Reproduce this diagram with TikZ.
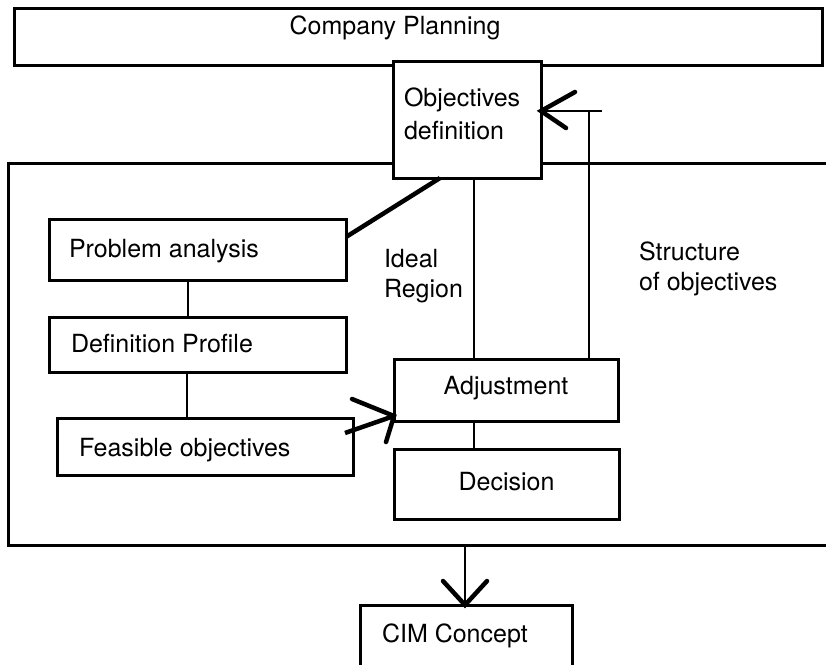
\documentclass[tikz,border=0pt]{standalone}
\usepackage{fontspec}
\setmainfont{TeX Gyre Heros}
\begin{document}
\begin{tikzpicture}[x=1pt,y=-1pt,
  box/.style={draw, line width=3pt, fill=white, rectangle, inner sep=0pt, outer sep=0pt, anchor=north west},
  lbl/.style={inner sep=0pt, outer sep=0pt, font=\fontsize{25}{33}\selectfont},
  lblw/.style={lbl, anchor=base west},
  lblc/.style={lbl, anchor=base},
  link/.style={line width=2.2pt},
  heavy/.style={line width=4.5pt},
  barb/.style={line width=4.5pt, line cap=round, line join=miter}]
\useasboundingbox (0,0) rectangle (826,664);

% outer frames
\node[box, minimum width=808pt, minimum height=57pt] (cp) at (14,8) {};
\draw[line width=3pt] (826,163) -| (8,545) -- (826,545);
\coordinate (rb) at (465,545);

% boxes
\node[box, minimum width=148pt, minimum height=117pt] (obj) at (393,61) {};
\node[box, minimum width=297pt, minimum height=61pt] (pa) at (49,219) {};
\node[box, minimum width=297pt, minimum height=55pt] (dp) at (49,317) {};
\node[box, minimum width=296pt, minimum height=57pt] (fo) at (57,418) {};
\node[box, minimum width=224pt, minimum height=62pt] (adj) at (394,359) {};
\node[box, minimum width=225pt, minimum height=70pt] (dec) at (394,449) {};
\node[box, minimum width=212pt, minimum height=64pt] (cim) at (360,605) {};

% labels
\node[lblc] (t-cp) at (395,34) {Company Planning};
\node[lblw] (t-obj1) at (404,106) {Objectives};
\node[lblw] (t-obj2) at (404,139) {definition};
\node[lblw] (t-pa) at (69,257) {Problem analysis};
\node[lblw] (t-dp) at (71,352) {Definition Profile};
\node[lblw] (t-fo) at (79,456) {Feasible objectives};
\node[lblw] (t-id1) at (384,267) {Ideal};
\node[lblw] (t-id2) at (384,297) {Region};
\node[lblw] (t-st1) at (639,260) {Structure};
\node[lblw] (t-st2) at (639,290) {of objectives};
\node[lblc] (t-adj) at (506,394) {Adjustment};
\node[lblc] (t-dec) at (506.5,490) {Decision};
\node[lblw] (t-cim) at (382,642) {CIM Concept};

% plain connectors
\draw[link] ([xshift=-9.5pt]pa.south) -- ([xshift=-9.5pt]dp.north);
\draw[link] ([xshift=-10.5pt]dp.south) -- ([xshift=-18pt]fo.north);
\draw[heavy] ([yshift=12.5pt]pa.east) -- ([xshift=-27pt]obj.south);
\draw[link] ([xshift=7pt]obj.south) -- ([xshift=-32pt]adj.north);
\draw[link] ([xshift=-32pt]adj.south) -- ([xshift=-32.5pt]dec.north);

% feedback from adjustment to objectives definition
\coordinate (tip) at ([yshift=8.5pt]obj.east);
\coordinate (up) at ([xshift=83pt]adj.north);
\coordinate (stub) at (602,111);
\draw[link] (up) -- (up |- tip);
\draw[link] (stub) -- (tip);
\draw[barb] (tip) ++(34,-19) -- (tip) -- ++(25,17);

% feasible objectives into adjustment
\coordinate (ftip) at ([yshift=-26pt]adj.west);
\draw[heavy] ([xshift=-8pt,yshift=13.5pt]fo.east) -- (ftip);
\draw[barb] (ftip) ++(-42,-17) -- (ftip) -- ++(-8,26);

% result to CIM concept
\coordinate (ctip) at ([xshift=-1pt]cim.north);
\draw[link] (rb) -- (ctip);
\draw[barb] (ctip) ++(-22,-24) -- (ctip) -- ++(22,-24);
\end{tikzpicture}
\end{document}
